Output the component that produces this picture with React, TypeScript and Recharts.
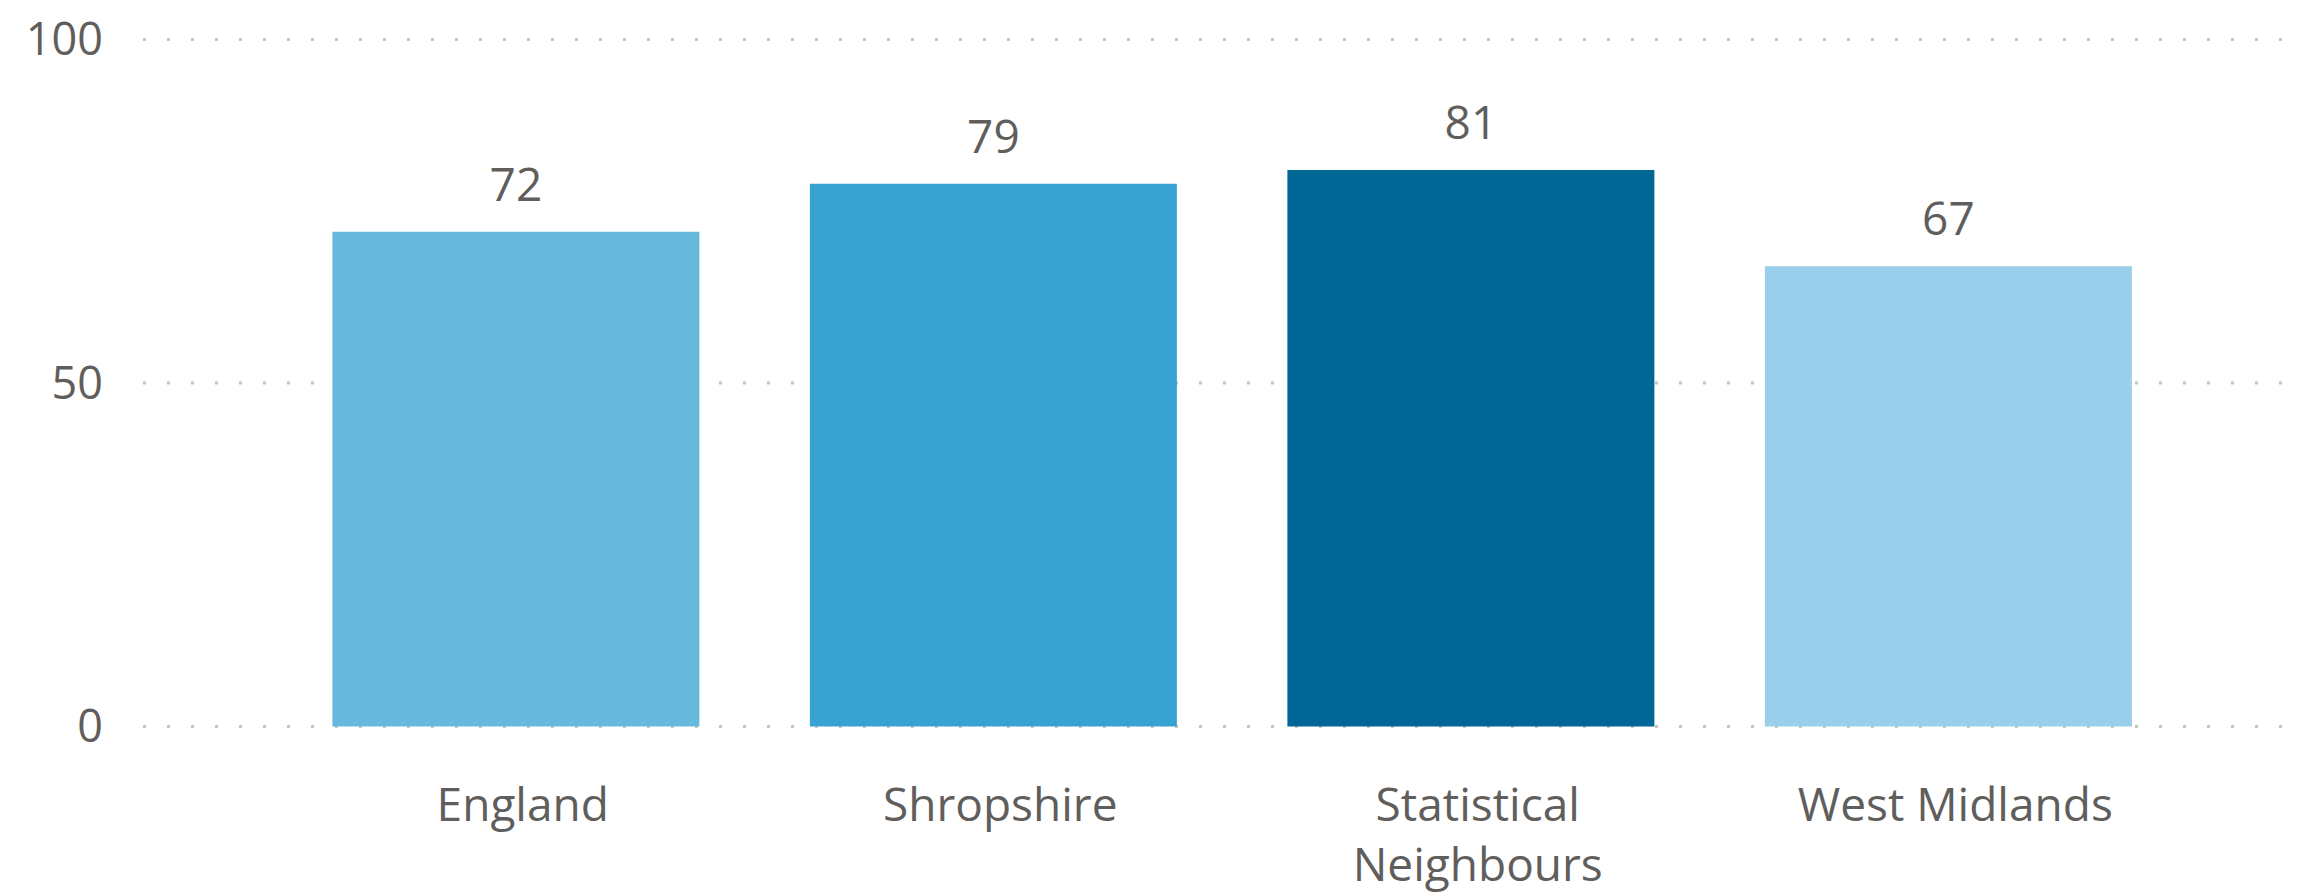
import React from 'react';
import { BarChart, Bar, XAxis, YAxis, CartesianGrid, Cell, LabelList } from 'recharts';

const areas = ['England', 'Shropshire', 'Statistical Neighbours', 'West Midlands'];
const values = [72, 79, 81, 67];
const barColors = ['#67b8dd', '#38a2d3', '#006695', '#99cfea'];
const yTicks = [0, 50, 100];

const data = areas.map((name, i) => ({ name, value: values[i] }));

const FONT = '"Segoe UI", "Open Sans", sans-serif';
const TEXT = '#605e5c';
const SIZE = 46;

// wrap long category names onto two lines, roughly like the band width allows
const CategoryTick = ({ x, y, payload }: any) => {
  const label: string = payload.value;
  const lines = label.length * 0.5 * SIZE > 460 ? label.split(' ') : [label];
  return (
    <text x={x + 7} y={y} textAnchor="middle" fill={TEXT} fontSize={SIZE} fontFamily={FONT}>
      {lines.map((l, i) => (
        <tspan key={i} x={x + 7} dy={i === 0 ? '0.71em' : 60}>
          {l}
        </tspan>
      ))}
    </text>
  );
};

export default function App() {
  return (
    <div style={{ position: 'absolute', left: 0, top: 0, background: '#fff' }}>
      <BarChart
        width={2304}
        height={893}
        data={data}
        margin={{ top: 39.5, right: 1, left: 0, bottom: 0 }}
        barCategoryGap="11.6%"
      >
        <CartesianGrid
          vertical={false}
          stroke="#c4c4c4"
          strokeWidth={3}
          strokeDasharray="3 21"
        />
        <XAxis
          dataKey="name"
          height={166.5}
          axisLine={false}
          tickLine={false}
          tickSize={0}
          tickMargin={62}
          interval={0}
          padding={{ left: 134, right: 116 }}
          tick={<CategoryTick />}
        />
        <YAxis
          width={143}
          domain={[0, 100]}
          ticks={yTicks}
          axisLine={false}
          tickLine={false}
          tickSize={0}
          tickMargin={40}
          tick={{ fill: TEXT, fontSize: 45, fontFamily: FONT }}
        />
        <Bar dataKey="value" isAnimationActive={false}>
          {data.map((d, i) => (
            <Cell key={d.name} fill={barColors[i]} />
          ))}
          <LabelList
            dataKey="value"
            position="top"
            offset={31}
            fill={TEXT}
            fontSize={SIZE}
            fontFamily={FONT}
          />
        </Bar>
      </BarChart>
    </div>
  );
}
